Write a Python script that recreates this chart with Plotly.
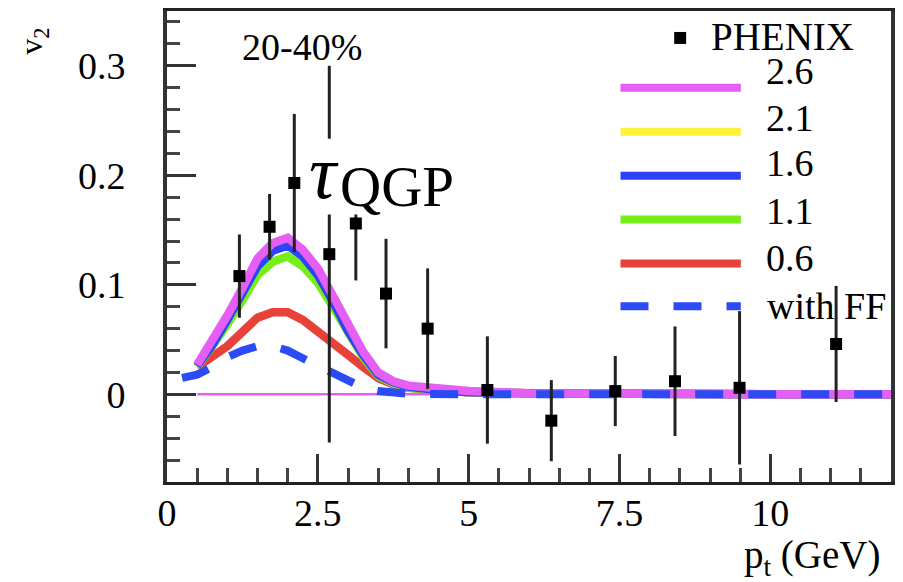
import plotly.graph_objects as go

# ---------------- data ----------------
pt_data = [1.20, 1.70, 2.11, 2.69, 3.13, 3.63, 4.32, 5.31, 6.37, 7.43, 8.42, 9.49, 11.09]
v2_data = [0.108, 0.153, 0.193, 0.128, 0.156, 0.092, 0.060, 0.004, -0.024, 0.003, 0.012, 0.006, 0.046]
v2_err = [0.038, 0.030, 0.063, 0.172, 0.052, 0.050, 0.055, 0.049, 0.037, 0.032, 0.050, 0.070, 0.053]

pt_curve = [0.5, 0.75, 1.0, 1.25, 1.5, 1.75, 2.0, 2.25, 2.5, 2.75, 3.0, 3.25, 3.5, 3.75, 4.0, 4.5, 5.0, 6.0, 8.0, 10.0, 12.0]
v2_26 = [0.027, 0.048, 0.072, 0.097, 0.124, 0.138, 0.143, 0.132, 0.115, 0.090, 0.063, 0.039, 0.020, 0.012, 0.008, 0.005, 0.003, 0.001, 0.0, 0.0, 0.0]
v2_21 = [0.026, 0.046, 0.070, 0.094, 0.121, 0.135, 0.140, 0.129, 0.112, 0.087, 0.060, 0.037, 0.019, 0.011, 0.007, 0.004, 0.002, 0.001, 0.0, 0.0, 0.0]
v2_16 = [0.026, 0.045, 0.068, 0.091, 0.117, 0.131, 0.136, 0.126, 0.109, 0.085, 0.058, 0.036, 0.018, 0.011, 0.007, 0.004, 0.002, 0.001, 0.0, 0.0, 0.0]
v2_11 = [0.025, 0.043, 0.064, 0.086, 0.109, 0.121, 0.126, 0.117, 0.102, 0.080, 0.055, 0.034, 0.017, 0.010, 0.006, 0.004, 0.002, 0.001, 0.0, 0.0, 0.0]
v2_06 = [0.025, 0.034, 0.044, 0.057, 0.070, 0.075, 0.075, 0.068, 0.058, 0.048, 0.036, 0.025, 0.015, 0.009, 0.006, 0.004, 0.002, 0.001, 0.0, 0.0, 0.0]

pt_ff = [0.25, 0.5, 0.75, 1.0, 1.25, 1.5, 1.75, 2.0, 2.25, 2.5, 2.75, 3.0, 3.25, 3.5, 4.0, 5.0, 8.0, 12.0]
v2_ff = [0.015, 0.018, 0.025, 0.034, 0.040, 0.044, 0.044, 0.040, 0.033, 0.026, 0.018, 0.011, 0.006, 0.003, 0.0005, 0.0, 0.0, 0.0]

zero_x = [0.5, 12.0]
zero_y = [0.0, 0.0]

x_tickvals = [0, 2.5, 5, 7.5, 10]
x_ticktext = ["0", "2.5", "5", "7.5", "10"]
y_tickvals = [0, 0.1, 0.2, 0.3]
y_ticktext = ["0", "0.1", "0.2", "0.3"]

legend_labels = ["2.6", "2.1", "1.6", "1.1", "0.6", "with FF"]
colors = {"2.6": "#e55ff5", "2.1": "#fff23a", "1.6": "#2b44f5", "1.1": "#76ee1a", "0.6": "#e8413a", "with FF": "#2b4cf5"}

FONT = "Liberation Serif"

# ------------- layout geometry (pixels) -------------
W, H = 903, 582
L, R, T, B = 167, 895, 10, 482


def pxx(x):
    return (x - L) / (R - L)


def pxy(y):
    return (B - y) / (B - T)


fig = go.Figure()

fig.add_trace(go.Scatter(x=zero_x, y=zero_y, mode="lines",
                         line=dict(color=colors["2.6"], width=2.5), showlegend=False, hoverinfo="skip"))
for lab, ys in [("0.6", v2_06), ("1.1", v2_11), ("2.1", v2_21), ("1.6", v2_16), ("2.6", v2_26)]:
    fig.add_trace(go.Scatter(x=pt_curve, y=ys, mode="lines", name=lab,
                             line=dict(color=colors[lab], width=8.5), showlegend=False))
fig.add_trace(go.Scatter(x=pt_ff, y=v2_ff, mode="lines", name="with FF",
                         line=dict(color=colors["with FF"], width=8, dash="28px,25px"), showlegend=False))
fig.add_trace(go.Scatter(x=pt_data, y=v2_data, mode="markers", name="PHENIX",
                         marker=dict(symbol="square", size=12, color="black"),
                         error_y=dict(type="data", array=v2_err, thickness=3, width=0, color="#222"),
                         showlegend=False))

shapes = []
annotations = []

# white box behind tau_QGP label
shapes.append(dict(type="rect", xref="paper", yref="paper", layer="above",
                   x0=pxx(305), x1=pxx(455), y0=pxy(214), y1=pxy(138),
                   fillcolor="white", line=dict(width=0)))

# manual legend
legend_line_y = [87, 131, 175, 219, 263, 306]
legend_text_y = [70, 117, 162, 210, 258, 306]
for lab, ly, ty in zip(legend_labels, legend_line_y, legend_text_y):
    shp = dict(type="line", xref="paper", yref="paper", layer="above",
               x0=pxx(623), x1=pxx(744), y0=pxy(ly), y1=pxy(ly),
               line=dict(color=colors[lab], width=8))
    if lab == "with FF":
        shp["line"]["dash"] = "28px,25px"
    shapes.append(shp)
    annotations.append(dict(xref="paper", yref="paper", x=pxx(767 if lab != "with FF" else 768), y=pxy(ty),
                            xanchor="left", yanchor="middle", showarrow=False, text=lab,
                            font=dict(family=FONT, size=38, color="black")))
shapes.append(dict(type="rect", xref="paper", yref="paper", layer="above",
                   x0=pxx(677), x1=pxx(689), y0=pxy(43), y1=pxy(31),
                   fillcolor="black", line=dict(width=0)))
annotations.append(dict(xref="paper", yref="paper", x=pxx(712), y=pxy(36), xanchor="left", yanchor="middle",
                        showarrow=False, text="PHENIX", font=dict(family=FONT, size=39, color="black")))

# labels
annotations.append(dict(xref="paper", yref="paper", x=pxx(303), y=pxy(46), xanchor="center", yanchor="middle",
                        showarrow=False, text="20-40%", font=dict(family=FONT, size=38, color="black")))
annotations.append(dict(xref="paper", yref="paper", x=pxx(342), y=pxy(171), xanchor="right", yanchor="middle",
                        showarrow=False, text="<i>τ</i>", font=dict(family=FONT, size=76, color="black")))
annotations.append(dict(xref="paper", yref="paper", x=pxx(339), y=pxy(186), xanchor="left", yanchor="middle",
                        showarrow=False, text="QGP", font=dict(family=FONT, size=57, color="black")))
annotations.append(dict(xref="paper", yref="paper", x=pxx(33), y=pxy(40), xanchor="center", yanchor="middle",
                        showarrow=False, textangle=-90, text="v<sub>2</sub>",
                        font=dict(family=FONT, size=32, color="black")))
annotations.append(dict(xref="paper", yref="paper", x=pxx(886), y=pxy(558), xanchor="right", yanchor="middle",
                        showarrow=False, text="p<sub>t</sub> (GeV)",
                        font=dict(family=FONT, size=39, color="black")))

fig.update_layout(
    width=W, height=H,
    margin=dict(l=L, r=W - R, t=T, b=H - B),
    paper_bgcolor="white", plot_bgcolor="white",
    font=dict(family=FONT, size=38, color="black"),
    shapes=shapes, annotations=annotations,
    showlegend=False,
)
fig.update_xaxes(range=[0, 12], showgrid=False, zeroline=False,
                 showline=True, linewidth=3, linecolor="#222", mirror=True,
                 ticks="inside", ticklen=28, tickwidth=3, tickcolor="#333",
                 tickvals=x_tickvals, ticktext=x_ticktext, ticklabelstandoff=-5,
                 tickfont=dict(family=FONT, size=38),
                 minor=dict(ticks="inside", ticklen=14, tickwidth=3, tickcolor="#444", dtick=0.5, tick0=0, showgrid=False))
fig.update_yaxes(range=[-0.08, 0.35], showgrid=False, zeroline=False,
                 showline=True, linewidth=4, linecolor="#333", mirror=True,
                 ticks="inside", ticklen=29, tickwidth=3, tickcolor="#333",
                 tickvals=y_tickvals, ticktext=y_ticktext, ticklabelstandoff=30,
                 tickfont=dict(family=FONT, size=38),
                 minor=dict(ticks="inside", ticklen=13, tickwidth=3, tickcolor="#444", dtick=0.02, tick0=0, showgrid=False))

fig.write_html("out.html")
